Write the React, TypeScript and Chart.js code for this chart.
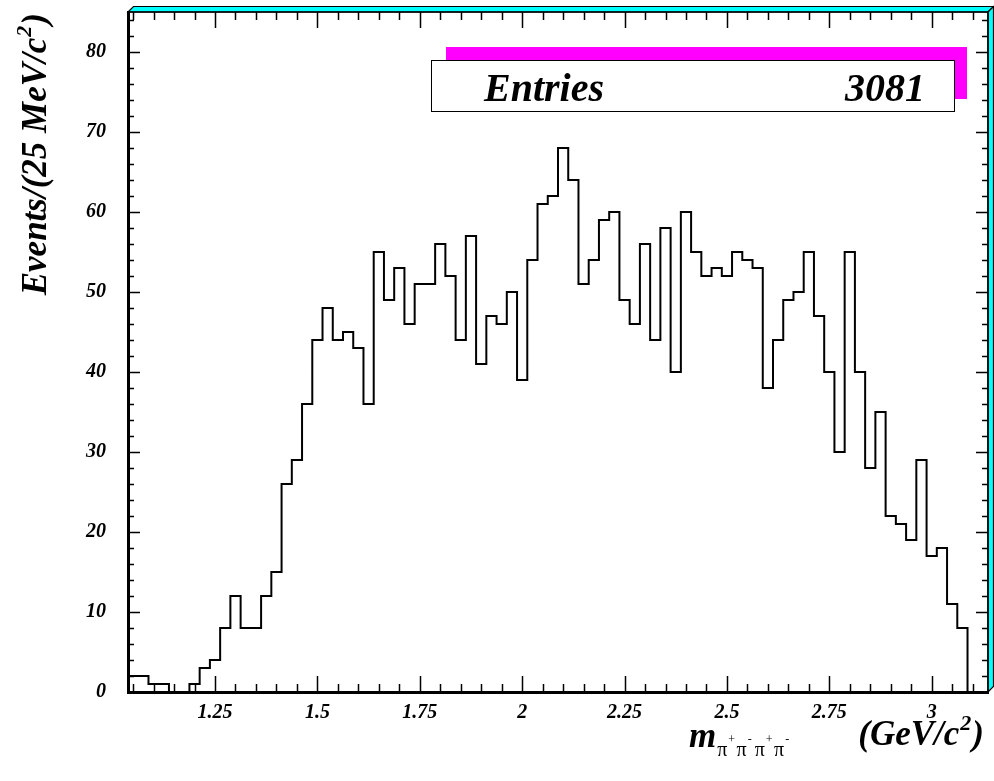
import React, { useEffect, useRef } from 'react';
import { Chart, registerables } from 'chart.js';

Chart.register(...registerables);

// Invariant-mass histogram of the pi+ pi- pi+ pi- system, 25 MeV/c^2 bins
const massLow = 1.0375;
const binWidth = 0.025;
const eventCounts = [
  2, 2, 1, 1, 0, 0, 1, 3, 4, 8,
  12, 8, 8, 12, 15, 26, 29, 36, 44, 48,
  44, 45, 43, 36, 55, 49, 53, 46, 51, 51,
  56, 52, 44, 57, 41, 47, 46, 50, 39, 54,
  61, 62, 68, 64, 51, 54, 59, 60, 49, 46,
  56, 44, 58, 40, 60, 55, 52, 53, 52, 55,
  54, 53, 38, 44, 49, 50, 55, 47, 40, 30,
  55, 40, 28, 35, 22, 21, 19, 29, 17, 18,
  11, 8, 0, 0,
];
const massTicks = [1.25, 1.5, 1.75, 2, 2.25, 2.5, 2.75, 3];
const eventTicks = [0, 10, 20, 30, 40, 50, 60, 70, 80];
const eventMax = 85;

const massHigh = massLow + eventCounts.length * binWidth;
const entries = eventCounts.reduce((a, b) => a + b, 0);

const SERIF = '"Liberation Serif", "Times New Roman", serif';
const tickFont = { family: SERIF, size: 20, style: 'italic' as const, weight: 'bold' as const };

// step outline: one point per lower bin edge, closing at the upper edge
const histPoints = eventCounts
  .map((c, i) => ({ x: massLow + i * binWidth, y: c }))
  .concat([{ x: massHigh, y: 0 }]);

type Run = { t: string; font: string; dy: number; gap?: number }[];

function drawTextRun(ctx: CanvasRenderingContext2D, parts: Run, x: number, y: number) {
  let cx = x;
  for (const p of parts) {
    ctx.font = p.font;
    ctx.fillText(p.t, cx, y + p.dy);
    cx += ctx.measureText(p.t).width + (p.gap || 0);
  }
  return cx - x;
}

function runWidth(ctx: CanvasRenderingContext2D, parts: Run) {
  let w = 0;
  for (const p of parts) {
    ctx.font = p.font;
    w += ctx.measureText(p.t).width + (p.gap || 0);
  }
  return w;
}

const framePlugin = {
  id: 'rootFrame',
  afterDraw(chart: any) {
    const { ctx, chartArea } = chart;
    const { left, right, top, bottom } = chartArea;
    const xs = chart.scales.x;
    const ys = chart.scales.y;
    ctx.save();

    // bevelled pad border on the top and right sides
    const b = 5.5;
    ctx.fillStyle = '#00ffff';
    ctx.strokeStyle = '#000';
    ctx.lineWidth = 1.2;
    ctx.beginPath();
    ctx.moveTo(left, top);
    ctx.lineTo(left + b, top - b);
    ctx.lineTo(right + b, top - b);
    ctx.lineTo(right, top);
    ctx.closePath();
    ctx.fill();
    ctx.stroke();
    ctx.beginPath();
    ctx.moveTo(right, top);
    ctx.lineTo(right + b, top - b);
    ctx.lineTo(right + b, bottom - b);
    ctx.lineTo(right, bottom);
    ctx.closePath();
    ctx.fill();
    ctx.stroke();

    ctx.lineWidth = 1.6;
    ctx.beginPath();
    ctx.moveTo(left, top);
    ctx.lineTo(right, top);
    ctx.lineTo(right, bottom);
    ctx.stroke();

    // tick marks on all four sides
    ctx.lineWidth = 1.5;
    ctx.beginPath();
    for (let k = Math.ceil(massLow / 0.05 - 1e-6); k * 0.05 <= massHigh + 1e-6; k++) {
      const px = Math.round(xs.getPixelForValue(k * 0.05)) + 0.5;
      const len = k % 5 === 0 ? 16 : 8;
      ctx.moveTo(px, bottom);
      ctx.lineTo(px, bottom - len);
      ctx.moveTo(px, top);
      ctx.lineTo(px, top + len);
    }
    for (let v = 0; v <= eventMax; v += 2) {
      const py = Math.round(ys.getPixelForValue(v)) + 0.5;
      const len = v % 10 === 0 ? 12 : 6;
      ctx.moveTo(left, py);
      ctx.lineTo(left + len, py);
      ctx.moveTo(right, py);
      ctx.lineTo(right - len, py);
    }
    ctx.stroke();

    // statistics box with its shadow
    ctx.fillStyle = '#ff00ff';
    ctx.fillRect(446, 47, 521, 52);
    ctx.fillStyle = '#ffffff';
    ctx.fillRect(431, 60, 524, 52);
    ctx.strokeStyle = '#000';
    ctx.lineWidth = 1;
    ctx.strokeRect(431.5, 60.5, 523, 51);
    ctx.fillStyle = '#000';
    ctx.font = `italic bold 40px ${SERIF}`;
    ctx.textBaseline = 'alphabetic';
    ctx.textAlign = 'left';
    ctx.fillText('Entries', 484, 101);
    ctx.textAlign = 'right';
    ctx.fillText(String(entries), 925, 101);
    ctx.textAlign = 'left';

    // axis titles
    const big = `italic bold 35px ${SERIF}`;
    const sup = `italic bold 22px ${SERIF}`;
    const yTitle: Run = [
      { t: 'Events/(25 MeV/c', font: big, dy: 0, gap: 1 },
      { t: '2', font: sup, dy: -15, gap: 1 },
      { t: ')', font: big, dy: 0 },
    ];
    const yw = runWidth(ctx, yTitle);
    ctx.save();
    ctx.translate(46, 13 + yw);
    ctx.rotate(-Math.PI / 2);
    drawTextRun(ctx, yTitle, 0, 0);
    ctx.restore();

    const unitTitle: Run = [
      { t: '(GeV/c', font: big, dy: 0, gap: 1 },
      { t: '2', font: sup, dy: -15, gap: 1 },
      { t: ')', font: big, dy: 0 },
    ];
    const uw = runWidth(ctx, unitTitle);
    drawTextRun(ctx, unitTitle, 984 - uw, 745);

    ctx.font = big;
    ctx.fillText('m', 689, 747);
    const mw = ctx.measureText('m').width;
    const pi = `20px ${SERIF}`;
    const sg = `12px ${SERIF}`;
    drawTextRun(ctx, [
      { t: 'π', font: pi, dy: 9, gap: 1 },
      { t: '+', font: sg, dy: -4, gap: 1.5 },
      { t: 'π', font: pi, dy: 9, gap: 1 },
      { t: '-', font: sg, dy: -4, gap: 3 },
      { t: 'π', font: pi, dy: 9, gap: 1 },
      { t: '+', font: sg, dy: -4, gap: 1.5 },
      { t: 'π', font: pi, dy: 9, gap: 1 },
      { t: '-', font: sg, dy: -4 },
    ], 689 + mw + 1, 747);

    ctx.restore();
  },
};

export default function App() {
  const canvasRef = useRef<HTMLCanvasElement>(null);

  useEffect(() => {
    const canvas = canvasRef.current;
    if (!canvas) return;
    const chart = new Chart(canvas, {
      type: 'line',
      data: {
        datasets: [
          {
            data: histPoints,
            stepped: 'before',
            borderColor: '#000',
            borderWidth: 2,
            borderJoinStyle: 'miter',
            pointRadius: 0,
            fill: false,
          },
        ],
      },
      options: {
        animation: false,
        responsive: false,
        events: [],
        layout: { padding: { left: 0, top: 12, right: 6, bottom: 0 } },
        plugins: {
          legend: { display: false },
          tooltip: { enabled: false },
        },
        scales: {
          x: {
            type: 'linear',
            min: massLow,
            max: massHigh,
            grid: { display: false },
            border: { display: true, color: '#000', width: 3 },
            ticks: {
              color: '#000',
              font: tickFont,
              padding: 1,
              maxRotation: 0,
              autoSkip: false,
              callback: (v: any) => String(v),
            },
            afterBuildTicks: (s: any) => {
              s.ticks = massTicks.map((v) => ({ value: v }));
            },
            afterFit: (s: any) => {
              s.height = 89;
              s.paddingLeft = 0;
              s.paddingRight = 0;
            },
          },
          y: {
            type: 'linear',
            min: 0,
            max: eventMax,
            grid: { display: false },
            border: { display: true, color: '#000', width: 3 },
            ticks: {
              color: '#000',
              font: tickFont,
              padding: 14,
              autoSkip: false,
              callback: (v: any) => String(v),
            },
            afterBuildTicks: (s: any) => {
              s.ticks = eventTicks.map((v) => ({ value: v }));
            },
            afterFit: (s: any) => {
              s.width = 128;
              s.paddingTop = 0;
              s.paddingBottom = 0;
            },
          },
        },
      },
      plugins: [framePlugin],
    } as any);
    return () => chart.destroy();
  }, []);

  return (
    <div style={{ position: 'fixed', left: 0, top: 0, width: 994, height: 781, background: '#fff' }}>
      <canvas ref={canvasRef} width={994} height={781} style={{ display: 'block', width: 994, height: 781 }} />
    </div>
  );
}
